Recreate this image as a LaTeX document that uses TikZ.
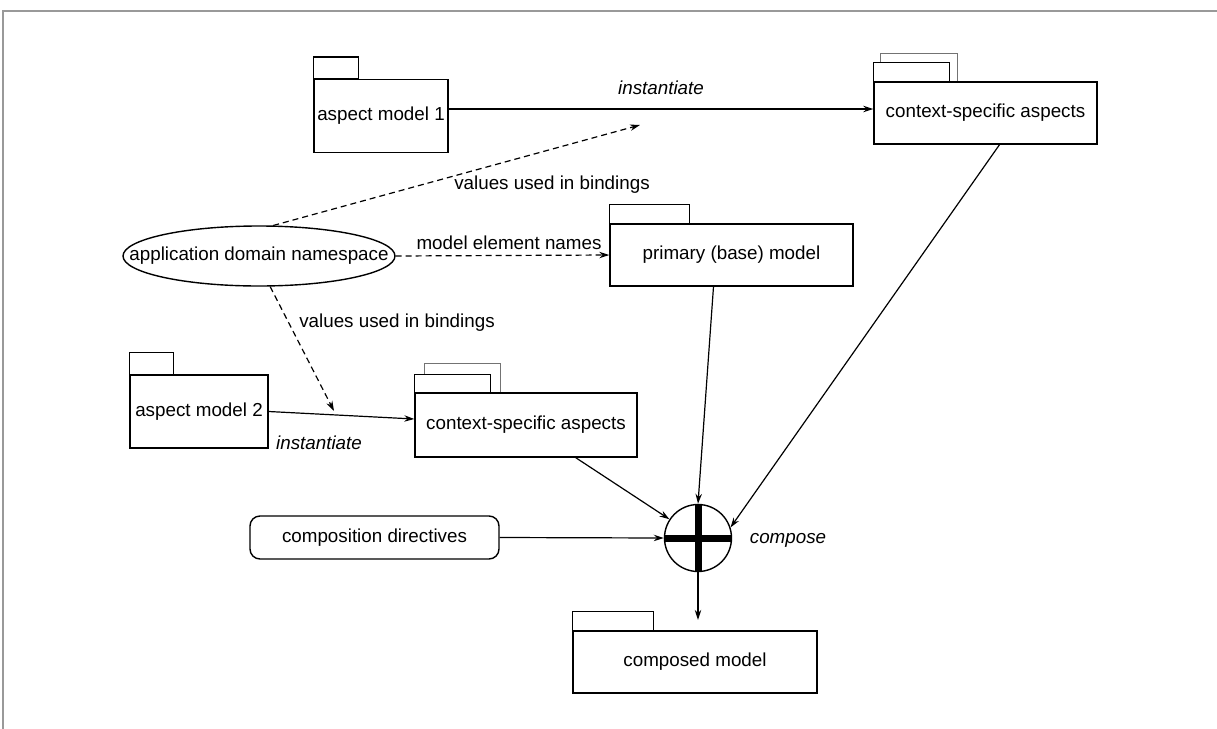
\documentclass[tikz,border=0pt]{standalone}
\usepackage{fontspec}
\setmainfont{Liberation Sans}
\usetikzlibrary{arrows.meta,shapes.geometric}

\tikzset{
  pkg/.style={draw, rectangle, inner sep=0pt, line width=0.7pt},
  tab/.style={draw, fill=white, line width=0.7pt},
  backtab/.style={draw=black!55, line width=0.7pt},
  link/.style={-{Stealth[length=5pt,width=3.2pt]}, line width=0.6pt},
  dep/.style={link, dash pattern=on 3pt off 2pt},
  lbl/.style={inner sep=0pt},
  it/.style={lbl, font=\fontsize{9.4}{11}\selectfont\itshape},
}

\begin{document}
\begin{tikzpicture}[x=0.5pt, y=-0.5pt, font=\fontsize{9.4}{11}\selectfont]
    \useasboundingbox (0,0) rectangle (1217,729);
    \draw[black!40, line width=1pt] (3,729) -- (3,11) -- (1217,11);

    % packages
    \node[pkg, minimum width=67pt, minimum height=36.5pt] (aspect1) at (381,116) {aspect model 1};
    \node[pkg, minimum width=111.5pt, minimum height=31pt] (ctx1) at (985.5,113) {context-specific aspects};
    \node[pkg, minimum width=121.5pt, minimum height=31pt] (primary) at (731.5,255) {primary (base) model};
    \node[pkg, minimum width=69pt, minimum height=36.5pt] (aspect2) at (199,411.5) {aspect model 2};
    \node[pkg, minimum width=111pt, minimum height=32pt] (ctx2) at (526,425) {context-specific aspects};
    \node[pkg, minimum width=122pt, minimum height=31pt] (composed) at (695,662) {composed model};

    \draw[tab] (aspect1.north west) rectangle ++(45,-22);
    \draw[backtab] ([xshift=3.5pt]ctx1.north west) -- ++(0,-28) -- ++(77,0) -- ++(0,28);
    \draw[tab] (ctx1.north west) rectangle ++(76,-19);
    \draw[tab] (primary.north west) rectangle ++(80,-19);
    \draw[tab] (aspect2.north west) rectangle ++(44,-22);
    \draw[backtab] ([xshift=5pt]ctx2.north west) -- ++(0,-29) -- ++(76,0) -- ++(0,29);
    \draw[tab] (ctx2.north west) rectangle ++(76,-18);
    \draw[tab] (composed.north west) rectangle ++(81,-19);

    \node[draw, ellipse, inner sep=0pt, minimum width=136pt, minimum height=30pt, line width=0.7pt] (ns) at (259,256) {\makebox[0pt]{application domain namespace}};
    \node[draw, rounded corners=5pt, inner sep=0pt, minimum width=124.5pt, minimum height=21.5pt, line width=0.7pt] (dirs) at (374.5,537.5) {composition directives};
    \node[draw, circle, inner sep=0pt, minimum size=33.5pt, line width=0.7pt] (comp) at (698,538) {};
    \draw[line width=3.5pt] (comp.west) -- (comp.east) (comp.north) -- (comp.south);

    % labels
    \node[it] (inst1) at (661,88) {instantiate};
    \node[lbl] (vals1) at (552,185) {values used in bindings};
    \node[lbl] (names) at (509,243) {model element names};
    \node[lbl] (vals2) at (397,323) {values used in bindings};
    \node[it] (inst2) at (319,443) {instantiate};
    \node[it] (complbl) at (788,540) {compose};

    \coordinate (in1) at ([yshift=2pt]ctx1.west);
    \coordinate (in2) at ([yshift=3pt]ctx2.west);
    \coordinate (bind1) at (640,125);
    \coordinate (bind2) at (334,411);
    \coordinate (down) at (698,620);

    \draw[link] (aspect1.east |- in1) -- (in1);
    \draw[link] (aspect2.east) -- (in2);
    \draw[dep] (ns.65) -- (bind1);
    \draw[dep] (ns.-70) -- (bind2);
    \draw[dep] (ns.east) -- (primary.west);

    \draw[link] (ctx2) -- (comp);
    \draw[link] ([xshift=-9pt]primary.south) -- (comp.north);
    \draw[link] ([xshift=7pt]ctx1.south) -- (comp.18);
    \draw[link] (dirs.east) -- (comp.west);
    \draw[link] (comp.south) -- (down);
\end{tikzpicture}
\end{document}
